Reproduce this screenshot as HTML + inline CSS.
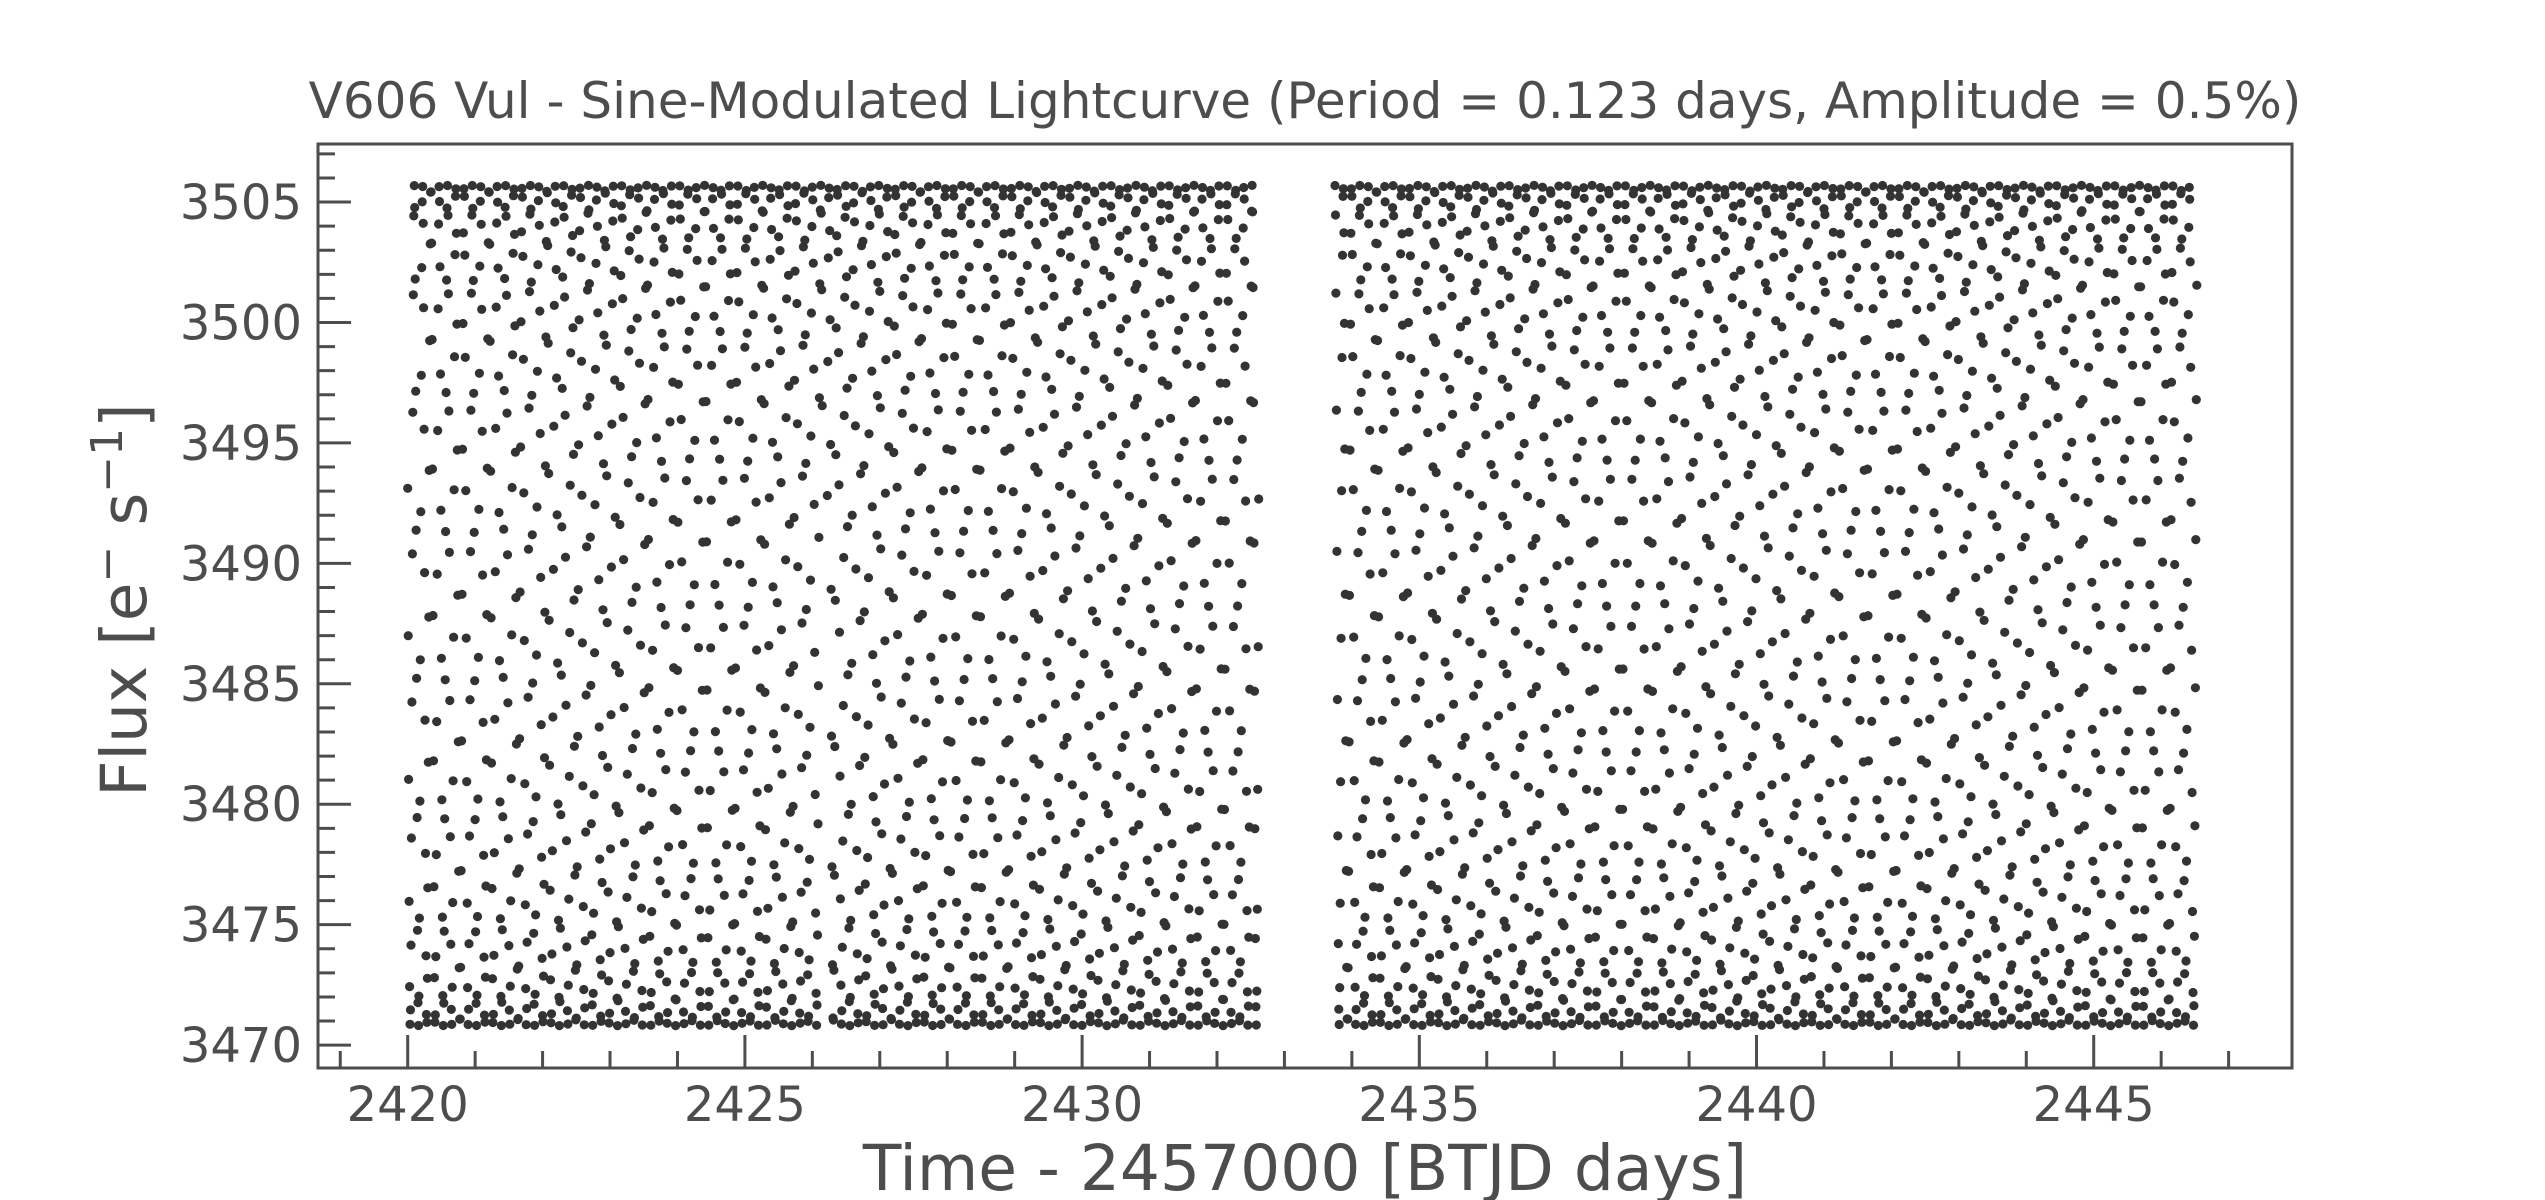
<!DOCTYPE html>
<html><head><meta charset="utf-8"><style>
html,body{margin:0;padding:0;background:#fff;}
svg{display:block;}
text{font-family:"DejaVu Sans","Liberation Sans",sans-serif;fill:#4d4d4d;}
</style></head><body>
<svg id="chart" width="2545" height="1200" viewBox="0 0 2545 1200">
<rect width="2545" height="1200" fill="#fff"/>
<text x="1305" y="118" font-size="50" text-anchor="middle">V606 Vul - Sine-Modulated Lightcurve (Period = 0.123 days, Amplitude = 0.5%)</text>
<g id="points" fill="#333"></g>
<g id="axes"></g>
<text x="1305" y="1190" font-size="63" text-anchor="middle">Time - 2457000 [BTJD days]</text>
<text transform="translate(146,600) rotate(-90)" font-size="63" text-anchor="middle">Flux [e<tspan font-size="44" dy="-24">−</tspan><tspan dy="24"> s</tspan><tspan font-size="44" dy="-24">−1</tspan><tspan dy="24">]</tspan></text>
</svg>
<script>
// data parameters
const segmentStarts = [2420.0, 2426.22, 2433.75];
const segmentEnds = [2426.15, 2432.62, 2446.53];
const segmentPhases = [0.455, 0.455, 0.465];
const periodDays = [0.123];
const amplitudeFrac = [0.005];
const meanFlux = [3488.25];
const cadenceDays = [600 / 86400];
const xTicksMajor = [2420, 2425, 2430, 2435, 2440, 2445];
const yTicksMajor = [3470, 3475, 3480, 3485, 3490, 3495, 3500, 3505];

const X0 = 318, X1 = 2292, Y0 = 144, Y1 = 1068;
const xMin = 2418.67, xMax = 2447.94, yMin = 3469.05, yMax = 3507.41;
const xs = t => X0 + (t - xMin) / (xMax - xMin) * (X1 - X0);
const ys = f => Y1 - (f - yMin) / (yMax - yMin) * (Y1 - Y0);
const NS = 'http://www.w3.org/2000/svg';

const pts = document.getElementById('points');
const amp = meanFlux[0] * amplitudeFrac[0];
for (let s = 0; s < segmentStarts.length; s++) {
  const n0 = Math.ceil((segmentStarts[s] - 2420) / cadenceDays[0]);
  const n1 = Math.floor((segmentEnds[s] - 2420) / cadenceDays[0]);
  for (let n = n0; n <= n1; n++) {
    const t = 2420 + n * cadenceDays[0];
    const f = meanFlux[0] + amp * Math.sin(2 * Math.PI * ((t - 2420) / periodDays[0] + segmentPhases[s]));
    const c = document.createElementNS(NS, 'circle');
    c.setAttribute('cx', xs(t).toFixed(1));
    c.setAttribute('cy', ys(f).toFixed(1));
    c.setAttribute('r', '4.6');
    
    
    pts.appendChild(c);
  }
}

const ax = document.getElementById('axes');
function line(x1, y1, x2, y2, w, name) {
  const l = document.createElementNS(NS, 'line');
  l.setAttribute('x1', x1); l.setAttribute('y1', y1);
  l.setAttribute('x2', x2); l.setAttribute('y2', y2);
  l.setAttribute('stroke', '#4d4d4d'); l.setAttribute('stroke-width', w);
  
  
  ax.appendChild(l);
}
function label(x, y, s, anchor, name) {
  const t = document.createElementNS(NS, 'text');
  t.setAttribute('x', x); t.setAttribute('y', y);
  t.setAttribute('font-size', '48');
  t.setAttribute('text-anchor', anchor);
  t.textContent = s;
  
  
  ax.appendChild(t);
}
for (let t = Math.ceil(xMin); t <= xMax; t++) {
  const x = xs(t);
  const major = xTicksMajor.includes(t);
  line(x, Y1, x, Y1 - (major ? 33 : 17), 3, major ? 'x-major-tick' : 'x-minor-tick');
}
for (let f = Math.ceil(yMin); f <= yMax; f++) {
  const y = ys(f);
  const major = yTicksMajor.includes(f);
  line(X0, y, X0 + (major ? 33 : 17), y, 3, major ? 'y-major-tick' : 'y-minor-tick');
}
xTicksMajor.forEach(t => label(xs(t), 1121, String(t), 'middle', 'x-tick-label'));
yTicksMajor.forEach(f => label(302, ys(f) + 17, String(f), 'end', 'y-tick-label'));
const fr = document.createElementNS(NS, 'rect');
fr.setAttribute('x', X0); fr.setAttribute('y', Y0);
fr.setAttribute('width', X1 - X0); fr.setAttribute('height', Y1 - Y0);
fr.setAttribute('fill', 'none'); fr.setAttribute('stroke', '#4d4d4d'); fr.setAttribute('stroke-width', '3');


ax.appendChild(fr);
</script>
</body></html>
